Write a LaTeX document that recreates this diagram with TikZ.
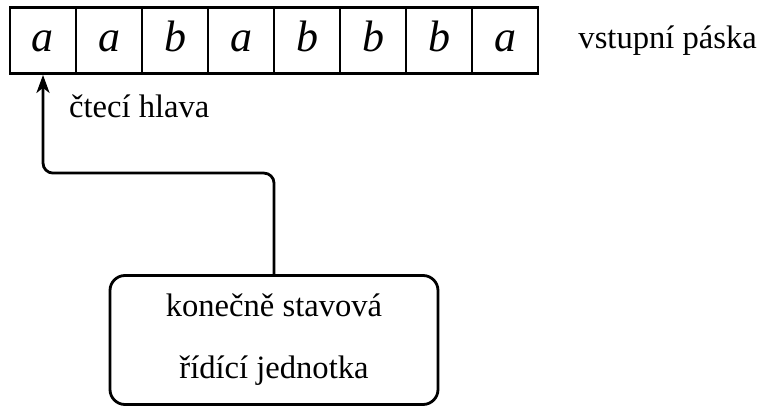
\documentclass[tikz,border=0pt]{standalone}
\usepackage{fontspec}
\setmainfont{Liberation Serif}
\usetikzlibrary{positioning,calc,arrows.meta}
\tikzset{
    every node/.style={font=\fontsize{16.3}{20}\selectfont},
    cell/.style={draw, line width=1.4pt, minimum size=33pt, inner sep=0pt, text height=14pt, text depth=2.5pt, font=\fontsize{22}{26}\selectfont\itshape},
    unitbox/.style={draw, line width=1.4pt, rounded corners=7.5pt, minimum width=164pt, minimum height=64.5pt, align=center, font=\fontsize{16.3}{31}\selectfont},
    arrow/.style={-{Stealth[length=9pt, width=6.5pt, inset=2.5pt]}, line width=1.4pt, rounded corners=5pt},
}

\begin{document}
\begin{tikzpicture}[x=0.5pt, y=-0.5pt]
  \useasboundingbox (0,0) rectangle (765,406);
  % the input tape, cell by cell
  \foreach \sym [count=\i] in {a,a,b,a,b,b,b,a}
    \node[cell] (c\i) at ({43+66*(\i-1)}, 40.5) {\sym};
  \node[right=16pt of c8] (tape) {vstupní páska};
  \node[anchor=west] (head) at (62, 106) {čtecí hlava};
  % control unit and its head
  \node[unitbox] (unit) at (274, 340) {konečně stavová\\řídící jednotka};
  \draw[arrow] (unit.north) -- ++(0,-101) -| (c1.south);
\end{tikzpicture}
\end{document}
